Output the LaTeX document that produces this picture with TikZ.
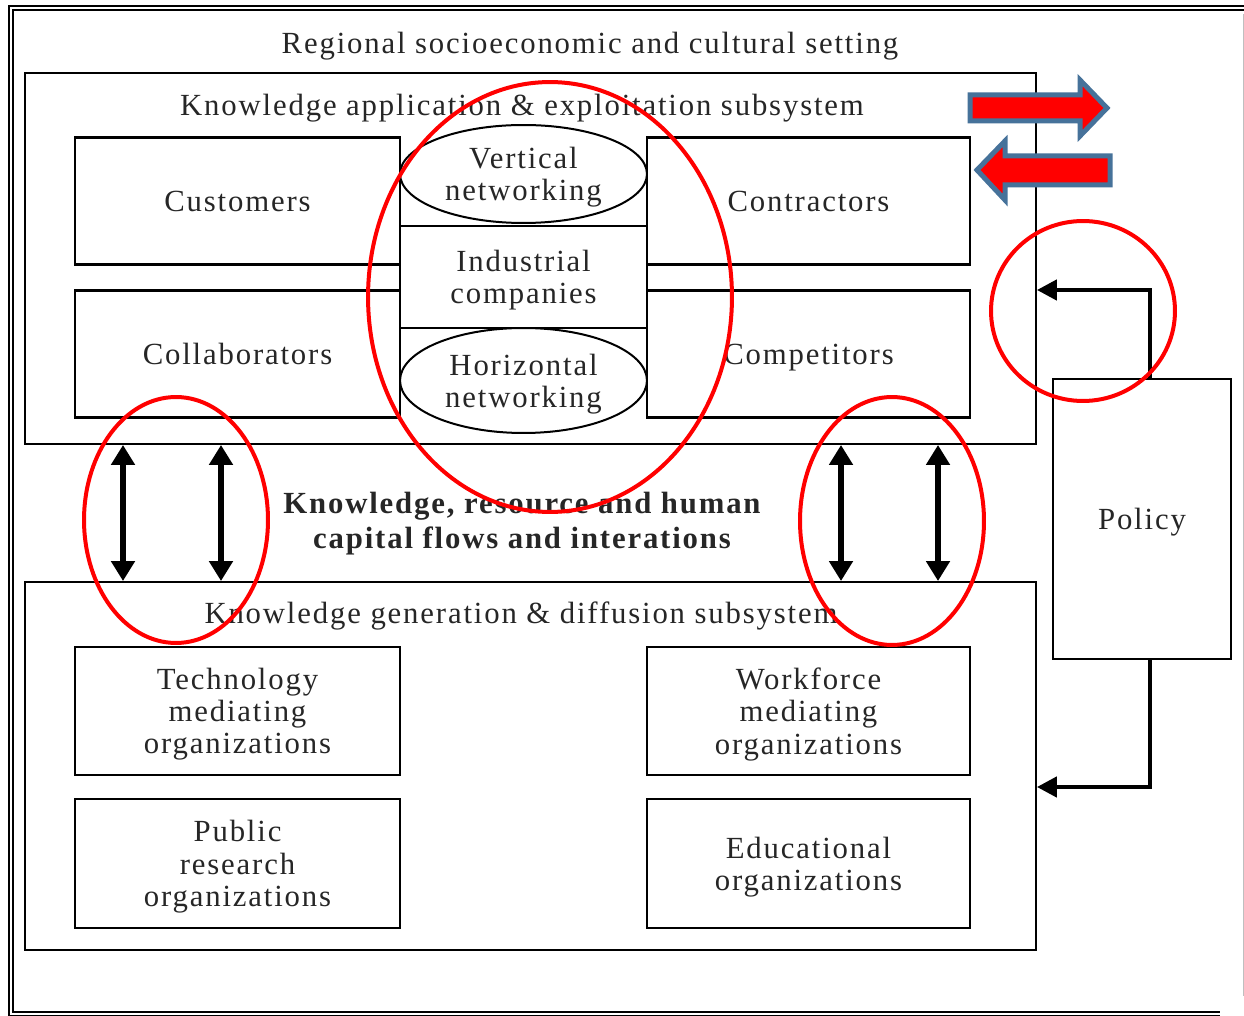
\documentclass[tikz,border=0pt]{standalone}
\usepackage{fontspec}
\setmainfont{Liberation Serif}[LetterSpace=6]
\usetikzlibrary{arrows.meta,positioning,calc,shapes.geometric}
\definecolor{arrowedge}{RGB}{70,114,154}

\begin{document}
\begin{tikzpicture}[x=0.02cm, y=-0.02cm,
  every node/.style={text=black!85, font=\fontsize{17.5}{18.4}\selectfont, align=center, text depth=0pt},
  box/.style={draw, line width=0.055cm, minimum width=6.5cm, minimum height=2.54cm, inner sep=0pt},
  net/.style={draw, ellipse, line width=0.04cm, minimum width=4.94cm, inner sep=0pt},
  frame/.style={draw, line width=0.04cm, minimum width=20.22cm, inner sep=0pt},
  flow/.style={line width=0.12cm, {Triangle[length=0.4cm,width=0.46cm]}-{Triangle[length=0.4cm,width=0.46cm]}},
  feed/.style={line width=0.09cm, -{Triangle[length=0.4cm,width=0.4cm]}},
  ring/.style={red, line width=0.08cm},
  block/.style={fill=red, draw=arrowedge, line width=0.1cm, line join=miter}]
\useasboundingbox (0,0) rectangle (1244,1016);
% outer setting frame
\draw[double, double distance=0.05cm, line width=0.03cm] (1244,8) -- (11,8) -- (11,1014) -- (1220,1014);
\draw[black!25, line width=0.02cm] (1243,14) -- (1243,996);
\node (setting) at (590,43) {Regional socioeconomic and cultural setting};

% application subsystem
\node (appl) [frame, minimum height=7.42cm] at (530.5,258.5) {};
\node (appltitle) at (522,105) {Knowledge application \& exploitation subsystem};
\node (cust)  [box] at (237.5,201) {Customers};
\node (coll)  [box] at (237.5,354) {Collaborators};
\node (contr) [box, minimum width=6.46cm] at (808.5,201) {Contractors};
\node (comp)  [box, minimum width=6.46cm] at (808.5,354) {Competitors};
\node (ind)   [draw, line width=0.04cm, minimum width=4.94cm, minimum height=2.04cm] at (523.5,277) {Industrial\\companies};
\node (vert)  [net, minimum height=1.96cm] at (523.5,174) {Vertical\\networking};
\node (horiz) [net, minimum height=2.1cm] at (523.5,380.5) {Horizontal\\networking};

% flows
\node (flowtext) [font=\fontsize{17.5}{19.9}\selectfont\bfseries] at (522,520) {Knowledge, resource and human\\capital flows and interations};

% generation subsystem
\node (gen) [frame, minimum height=7.36cm] at (530.5,766) {};
\node (gentitle) at (521,613) {Knowledge generation \& diffusion subsystem};
\node (tech)  [box, minimum height=2.56cm] at (237.5,711) {Technology\\mediating\\organizations};
\node (pub)   [box, minimum height=2.58cm] at (237.5,863.5) {Public\\research\\organizations};
\node (work)  [box, minimum width=6.46cm, minimum height=2.56cm] at (808.5,711) {Workforce\\mediating\\organizations};
\node (edu)   [box, minimum width=6.46cm, minimum height=2.58cm] at (808.5,863.5) {Educational\\organizations};

% policy
\node (policy) [draw, line width=0.04cm, minimum width=3.56cm, minimum height=5.6cm] at (1142,519) {Policy};

\foreach \x [count=\i] in {123,221,841,938} {
  \coordinate (f\i) at (\x,0);
  \draw[flow] (f\i |- appl.south) -- (f\i |- gen.north);
}
\coordinate (pin1) at (0,290);
\coordinate (pin2) at (0,787);
\draw[feed] ([xshift=0.16cm]policy.north) |- (appl.east |- pin1);
\draw[feed] ([xshift=0.16cm]policy.south) |- (gen.east |- pin2);

% red marks
\draw[ring] (550,297) ellipse [x radius=3.64cm, y radius=4.3cm];
\draw[ring] (176,520) ellipse [x radius=1.84cm, y radius=2.46cm];
\draw[ring] (892,521) ellipse [x radius=1.84cm, y radius=2.48cm];
\draw[ring] (1083,311) ellipse [x radius=1.84cm, y radius=1.8cm];
\draw[block] (970,95) -- (1080,95) -- (1080,80) -- (1107,108) -- (1080,136) -- (1080,121) -- (970,121) -- cycle;
\draw[block] (977,170) -- (1005,141) -- (1005,156) -- (1110,156) -- (1110,185) -- (1005,185) -- (1005,200) -- cycle;
\end{tikzpicture}
\end{document}
